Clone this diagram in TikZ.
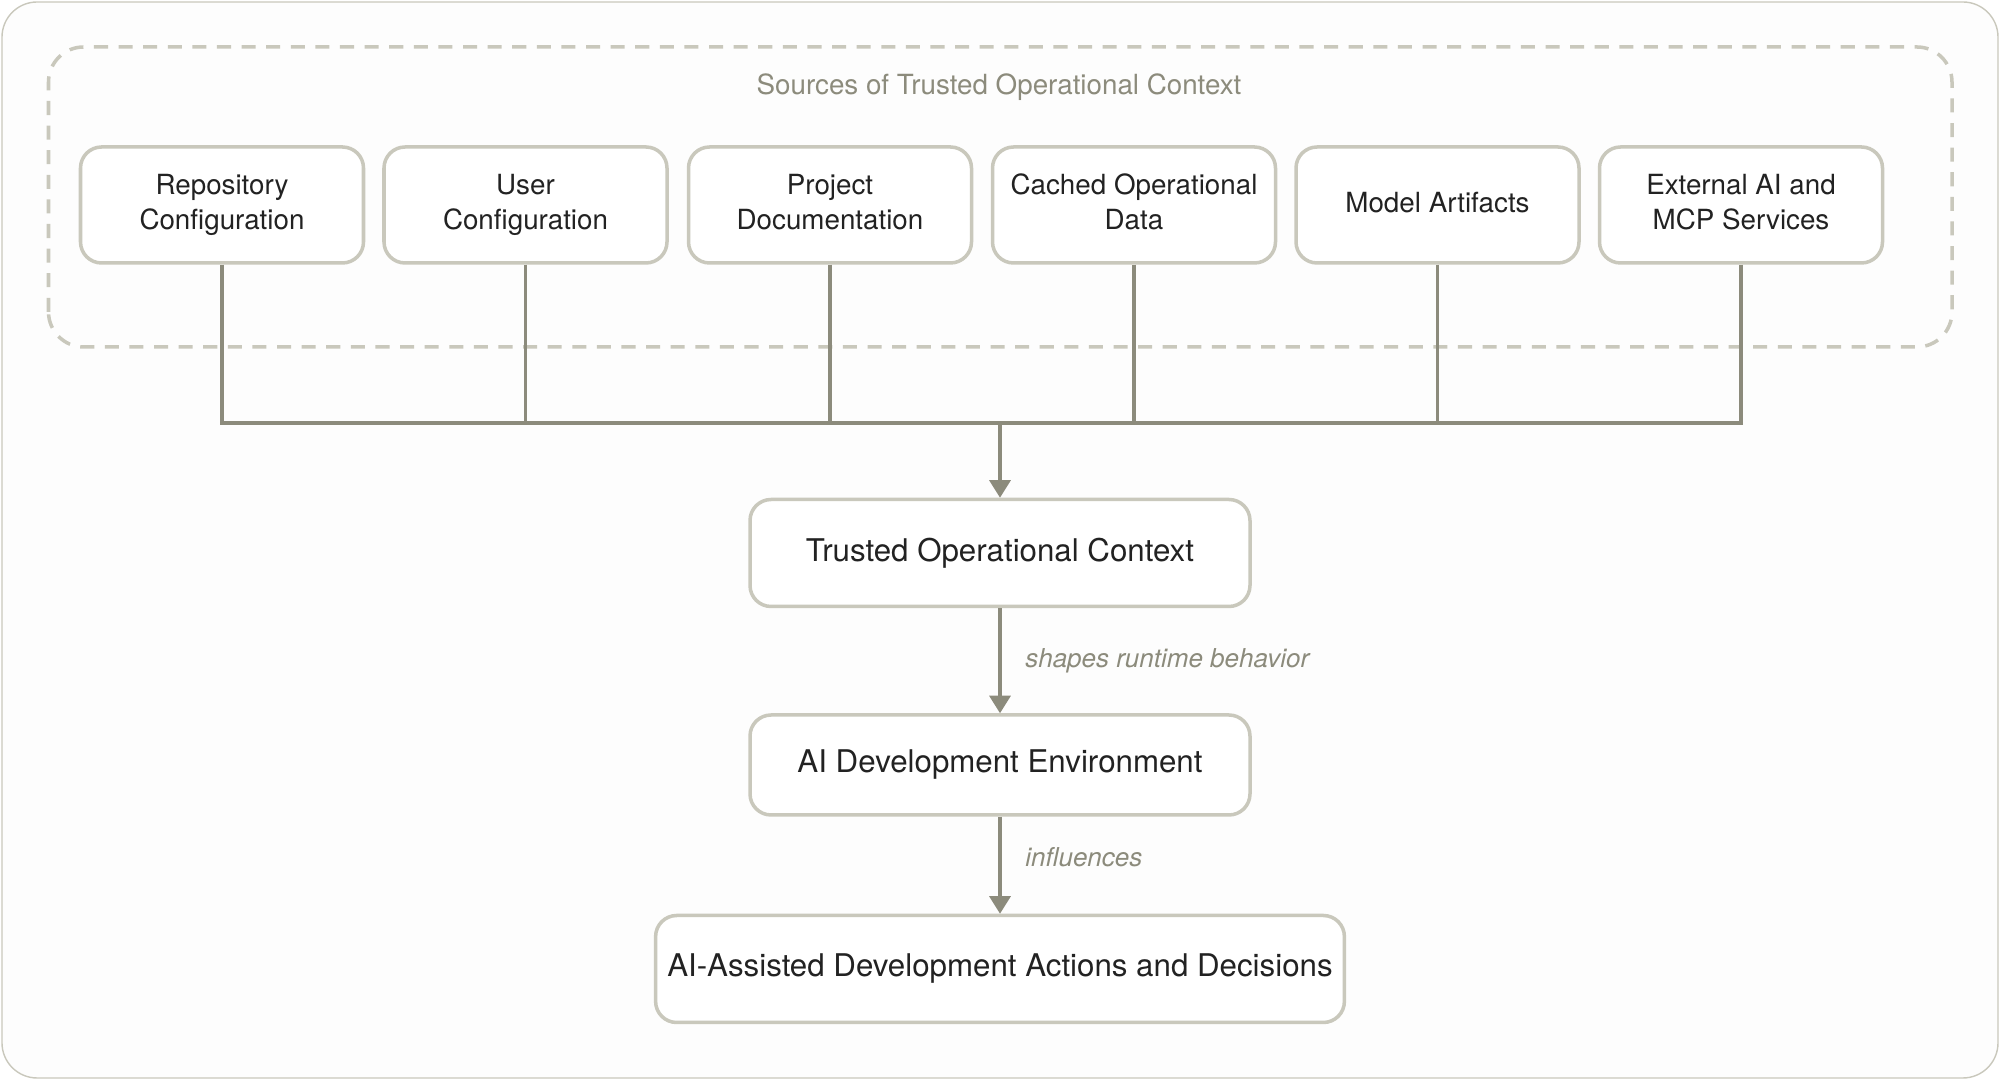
\documentclass[tikz,border=0pt]{standalone}
\usepackage{fontspec}
\setmainfont{TeX Gyre Heros}
\usepackage{xcolor}
\usetikzlibrary{arrows.meta,positioning}

\definecolor{boxline}{HTML}{C9C8BC}
\definecolor{wireline}{HTML}{8C8B7C}
\definecolor{titlegray}{HTML}{8C8B7C}
\definecolor{textdark}{HTML}{222222}

\tikzset{
  srcbox/.style={draw=boxline, line width=1pt, rounded corners=6pt, fill=white,
    minimum width=2.83cm, minimum height=1.16cm, align=center,
    font=\fontsize{7.9}{10}\selectfont, text=textdark},
  mainbox/.style={draw=boxline, line width=1pt, rounded corners=6pt, fill=white,
    minimum width=5cm, align=center, font=\fontsize{8.9}{11}\selectfont, text=textdark},
  wire/.style={draw=wireline, line width=0.9pt},
  flow/.style={wire, -{Triangle[length=5pt,width=6pt]}},
  flowlabel/.style={font=\itshape\fontsize{7.4}{9}\selectfont, text=titlegray, anchor=west}
}

\begin{document}
\begin{tikzpicture}

% Frame
\draw[boxline, fill=white!97!boxline, rounded corners=10pt] (0.02,0.02) rectangle (19.98,10.78);
\useasboundingbox (0,0) rectangle (20,10.8);

% Sources group
\draw[boxline, line width=1pt, dashed, dash pattern=on 4pt off 3pt, rounded corners=10pt]
  (0.485,7.33) rectangle (19.52,10.33);
\node[font=\fontsize{7.9}{10}\selectfont, text=titlegray] (title) at (9.99,9.93)
  {Sources of Trusted Operational Context};

\node[srcbox] (repo) at (2.22,8.75) {Repository\strut\\Configuration\strut};
\node[srcbox] (user) at (5.255,8.75) {User\strut\\Configuration\strut};
\node[srcbox] (docs) at (8.30,8.75) {Project\strut\\Documentation\strut};
\node[srcbox] (cache) at (11.34,8.75) {Cached Operational\strut\\Data\strut};
\node[srcbox] (model) at (14.375,8.75) {Model Artifacts\strut};
\node[srcbox] (ext) at (17.41,8.75) {External AI and\strut\\MCP Services\strut};

% Main chain
\node[mainbox, minimum height=1.07cm] (toc) at (10,5.27) {Trusted Operational Context};
\node[mainbox, minimum height=1cm] (env) at (10,3.15) {AI Development Environment};
\node[mainbox, minimum height=1.07cm, minimum width=6.8cm] (act) at (10,1.11)
  {AI-Assisted Development Actions and Decisions};

% Bus
\coordinate (bus) at (10,6.57);
\foreach \s in {repo,user,docs,cache,model,ext}
  \draw[wire] (\s.south) |- (bus);
\draw[flow] (bus) -- (toc.north);

\draw[flow] (toc) -- (env) node[midway, flowlabel, xshift=0.12cm] (lbla) {shapes runtime behavior};
\draw[flow] (env) -- (act) node[midway, flowlabel, xshift=0.12cm, yshift=0.08cm] (lblb) {influences};

\end{tikzpicture}
\end{document}
